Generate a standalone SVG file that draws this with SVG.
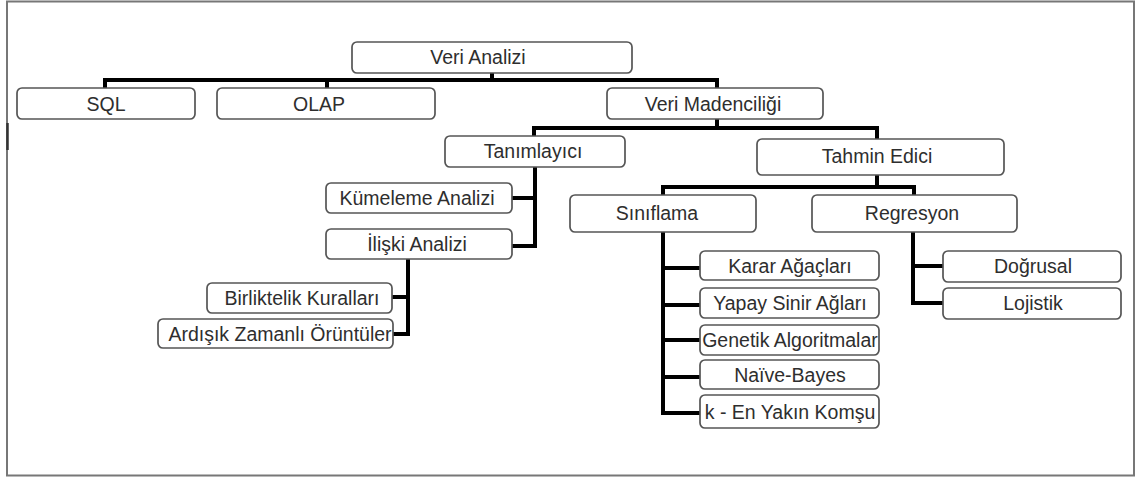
<svg xmlns="http://www.w3.org/2000/svg" width="1136" height="477" viewBox="0 0 1136 477">
  <style>
    .box rect { fill: #ffffff; stroke: #555555; stroke-width: 1.7; }
    .box text { font-family: "Liberation Sans", Arial, sans-serif; font-size: 19.5px; fill: #2e2e2e; text-anchor: middle; }
    .link { fill: none; stroke: #000000; stroke-width: 4; stroke-linejoin: miter; stroke-linecap: square; }
  </style>

  <!-- page frame -->
  <rect x="0" y="0" width="1136" height="477" fill="#ffffff"/>
  <rect x="7" y="1.5" width="1127" height="474" fill="none" stroke="#777777" stroke-width="2"/>
  <line x1="7.5" y1="123" x2="7.5" y2="150" stroke="#333333" stroke-width="2.5"/>

  <!-- connectors -->
  <g id="connectors">
    <path class="link" d="M492,74 V80"/>
    <path class="link" d="M105,88 V80 H717 V88"/>
    <path class="link" d="M327,80 V88"/>
    <path class="link" d="M717,120 V128"/>
    <path class="link" d="M534,136 V128 H877 V139"/>
    <path class="link" d="M535,168 V246 H514"/>
    <path class="link" d="M535,198 H514"/>
    <path class="link" d="M408,260 V334 H394"/>
    <path class="link" d="M408,297 H394"/>
    <path class="link" d="M877,176 V187"/>
    <path class="link" d="M663,195 V187 H914 V195"/>
    <path class="link" d="M663,233 V413 H699"/>
    <path class="link" d="M663,268 H699"/>
    <path class="link" d="M663,305 H699"/>
    <path class="link" d="M663,340 H699"/>
    <path class="link" d="M663,377 H699"/>
    <path class="link" d="M913,233 V303 H942"/>
    <path class="link" d="M913,266 H942"/>
  </g>

  <!-- nodes -->
  <g id="veri-analizi" class="box">
    <rect x="352" y="42" width="280" height="31" rx="5"/>
    <text x="478" y="64">Veri  Analizi</text>
  </g>
  <g id="sql" class="box">
    <rect x="17" y="88" width="178" height="31" rx="5"/>
    <text x="106" y="111">SQL</text>
  </g>
  <g id="olap" class="box">
    <rect x="217" y="88" width="218" height="31" rx="5"/>
    <text x="319" y="111">OLAP</text>
  </g>
  <g id="veri-madenciligi" class="box">
    <rect x="607" y="88" width="216" height="31" rx="5"/>
    <text x="713" y="111">Veri Madenciliği</text>
  </g>
  <g id="tanimlayici" class="box">
    <rect x="445" y="136" width="180" height="31" rx="5"/>
    <text x="533" y="158">Tanımlayıcı</text>
  </g>
  <g id="tahmin-edici" class="box">
    <rect x="757" y="139" width="247" height="36" rx="5"/>
    <text x="877" y="163">Tahmin Edici</text>
  </g>
  <g id="kumeleme" class="box">
    <rect x="326" y="183" width="186" height="30" rx="5"/>
    <text x="417" y="205">Kümeleme Analizi</text>
  </g>
  <g id="iliski" class="box">
    <rect x="326" y="229" width="186" height="30" rx="5"/>
    <text x="417" y="251">İlişki Analizi</text>
  </g>
  <g id="birliktelik" class="box">
    <rect x="207" y="283" width="185" height="30" rx="5"/>
    <text x="302" y="305">Birliktelik Kuralları</text>
  </g>
  <g id="ardisik" class="box">
    <rect x="158" y="319" width="235" height="29" rx="5"/>
    <text x="280" y="341">Ardışık Zamanlı Örüntüler</text>
  </g>
  <g id="siniflama" class="box">
    <rect x="570" y="195" width="186" height="37" rx="5"/>
    <text x="657" y="220">Sınıflama</text>
  </g>
  <g id="regresyon" class="box">
    <rect x="812" y="195" width="205" height="37" rx="5"/>
    <text x="912" y="220">Regresyon</text>
  </g>
  <g id="karar" class="box">
    <rect x="700" y="251" width="179" height="29" rx="5"/>
    <text x="790" y="273">Karar Ağaçları</text>
  </g>
  <g id="yapay" class="box">
    <rect x="700" y="288" width="179" height="30" rx="5"/>
    <text x="790" y="310">Yapay Sinir Ağları</text>
  </g>
  <g id="genetik" class="box">
    <rect x="700" y="325" width="179" height="30" rx="5"/>
    <text x="790" y="347">Genetik Algoritmalar</text>
  </g>
  <g id="naive" class="box">
    <rect x="700" y="360" width="179" height="29" rx="5"/>
    <text x="790" y="382">Naïve-Bayes</text>
  </g>
  <g id="knn" class="box">
    <rect x="700" y="395" width="179" height="33" rx="5"/>
    <text x="790" y="419">k - En Yakın Komşu</text>
  </g>
  <g id="dogrusal" class="box">
    <rect x="943" y="251" width="178" height="31" rx="5"/>
    <text x="1033" y="273">Doğrusal</text>
  </g>
  <g id="lojistik" class="box">
    <rect x="943" y="288" width="178" height="31" rx="5"/>
    <text x="1033" y="310">Lojistik</text>
  </g>
</svg>
